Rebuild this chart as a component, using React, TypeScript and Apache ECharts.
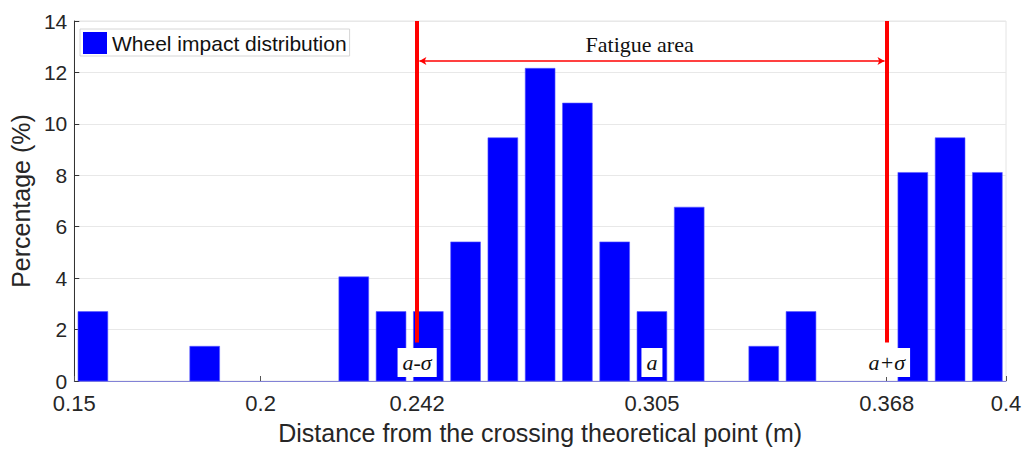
import React, { useEffect, useRef } from "react";
import * as echarts from "echarts";

// Histogram bin centres (m) and the share of wheel impacts in each bin (%)
const binCenters = [
  0.155, 0.165, 0.175, 0.185, 0.195, 0.205, 0.215, 0.225, 0.235, 0.245,
  0.255, 0.265, 0.275, 0.285, 0.295, 0.305, 0.315, 0.325, 0.335, 0.345,
  0.355, 0.365, 0.375, 0.385, 0.395,
];
const percentages = [
  2.7, 0, 0, 1.35, 0, 0, 0, 4.05, 2.7, 2.7,
  5.41, 9.46, 12.16, 10.81, 5.41, 2.7, 6.76, 0, 1.35, 2.7,
  0, 0, 8.11, 9.46, 8.11,
];
const binWidth = 0.008;

// Axis ticks
const xTicks = [0.15, 0.2, 0.242, 0.305, 0.368, 0.4];
const yTicks = [0, 2, 4, 6, 8, 10, 12, 14];

// Fatigue area bounds (a - sigma, a + sigma) and the mean a
const lowerBound = 0.242;
const upperBound = 0.368;
const meanValue = 0.305;
const boundLineBottom = 1.5;
const arrowLevel = 12.44;
const markerLabels = ["a-σ", "a", "a+σ"];
const markerX = [lowerBound, meanValue, upperBound];
const markerY = 0.72;
const areaTitle = "Fatigue area";
const areaTitlePos = [0.3017, 13.07];

const seriesName = "Wheel impact distribution";

export default function App() {
  const ref = useRef<HTMLDivElement>(null);

  useEffect(() => {
    document.body.style.margin = "0";
    if (!ref.current) return;
    const chart = echarts.init(ref.current, undefined, { renderer: "svg" });

    const sans = "Liberation Sans";
    const serif = "Liberation Serif";

    chart.setOption({
      animation: false,
      backgroundColor: "#ffffff",
      grid: {
        left: 72,
        right: 26,
        top: 21,
        bottom: 68,
        show: true,
        borderColor: "#e4e4e4",
        borderWidth: 1,
      },
      legend: {
        left: 80,
        top: 29,
        data: [{ name: seriesName, icon: "rect" }],
        itemWidth: 24,
        itemHeight: 22,
        padding: [3, 3, 2, 3],
        borderColor: "#d6d6d6",
        borderWidth: 1,
        backgroundColor: "#ffffff",
        textStyle: { fontFamily: sans, fontSize: 21, color: "#111" },
      },
      xAxis: {
        type: "value",
        min: 0.15,
        max: 0.4,
        name: "Distance from the crossing theoretical point (m)",
        nameLocation: "middle",
        nameGap: 39,
        nameTextStyle: { fontFamily: sans, fontSize: 25, color: "#262626" },
        axisLine: { show: true, lineStyle: { color: "#8282d6", width: 1 } },
        axisTick: {
          show: true,
          inside: true,
          length: 5,
          customValues: xTicks,
          lineStyle: { color: "#555" },
        },
        axisLabel: {
          customValues: xTicks,
          margin: 11,
          fontFamily: sans,
          fontSize: 22,
          color: "#262626",
          formatter: (v: number) => String(v),
        },
        splitLine: { show: false },
      },
      yAxis: {
        type: "value",
        min: 0,
        max: 14,
        interval: 2,
        name: "Percentage (%)",
        nameLocation: "middle",
        nameGap: 38,
        nameTextStyle: { fontFamily: sans, fontSize: 25, color: "#262626" },
        axisLine: { show: true, lineStyle: { color: "#333", width: 1 } },
        axisTick: { show: true, inside: true, length: 5, lineStyle: { color: "#333" } },
        axisLabel: {
          margin: 7,
          fontFamily: sans,
          fontSize: 21,
          color: "#262626",
          customValues: yTicks,
        },
        splitLine: { show: true, lineStyle: { color: "#e8e8e8", width: 1 } },
      },
      series: [
        {
          name: seriesName,
          type: "custom",
          itemStyle: { color: "#0000ff" },
          data: binCenters.map((c, i) => [c, percentages[i]]),
          renderItem: (params: any, api: any) => {
            const x = api.value(0);
            const y = api.value(1);
            if (!y) return null;
            const topLeft = api.coord([x - binWidth / 2, y]);
            const bottomRight = api.coord([x + binWidth / 2, 0]);
            return {
              type: "rect",
              shape: {
                x: topLeft[0],
                y: topLeft[1],
                width: bottomRight[0] - topLeft[0],
                height: bottomRight[1] - topLeft[1],
              },
              style: { fill: "#0000ff", stroke: "#5a5aff", lineWidth: 0.6 },
            };
          },
          z: 2,
        },
        {
          name: "bounds",
          type: "line",
          data: [],
          z: 5,
          markLine: {
            silent: true,
            symbol: ["none", "none"],
            label: { show: false },
            lineStyle: { color: "#ff0000", width: 4, type: "solid" },
            data: [
              [{ coord: [lowerBound, boundLineBottom] }, { coord: [lowerBound, 14] }],
              [{ coord: [upperBound, boundLineBottom] }, { coord: [upperBound, 14] }],
            ],
          },
        },
        {
          name: "span",
          type: "line",
          data: [],
          z: 4,
          markLine: {
            silent: true,
            symbol: ["arrow", "arrow"],
            symbolSize: [6, 7],
            label: { show: false },
            lineStyle: { color: "#ff0000", width: 1.5, type: "solid" },
            data: [
              [{ coord: [lowerBound + 0.0006, arrowLevel] }, { coord: [upperBound - 0.0006, arrowLevel] }],
            ],
          },
        },
        {
          name: "area title",
          type: "scatter",
          symbolSize: 1,
          itemStyle: { color: "rgba(0,0,0,0)", opacity: 1 },
          z: 6,
          data: [[areaTitlePos[0], areaTitlePos[1]]],
          label: {
            show: true,
            position: "inside",
            formatter: () => areaTitle,
            fontFamily: serif,
            fontSize: 22,
            color: "#111",
          },
        },
        {
          name: "markers",
          type: "scatter",
          symbolSize: 1,
          itemStyle: { color: "rgba(0,0,0,0)", opacity: 1 },
          z: 6,
          data: markerX.map((x, i) => [x, markerY, markerLabels[i]]),
          label: {
            show: true,
            position: "inside",
            formatter: (p: any) => p.value[2],
            fontFamily: serif,
            fontStyle: "italic",
            fontSize: 22,
            color: "#111",
            backgroundColor: "#ffffff",
            padding: [4, 5, 3, 5],
          },
        },
      ],
    });

    return () => chart.dispose();
  }, []);

  return <div ref={ref} style={{ width: 1032, height: 450 }} />;
}
